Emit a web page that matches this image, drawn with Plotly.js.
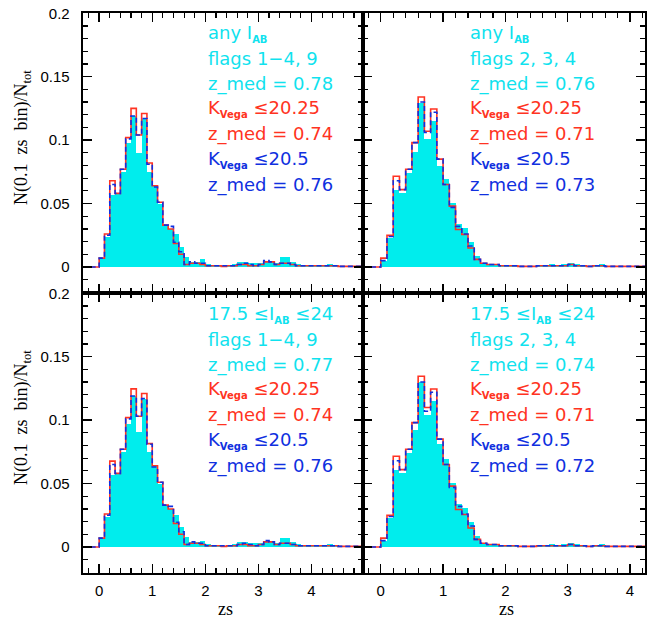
<!DOCTYPE html>
<html><head><meta charset="utf-8">
<script src="https://cdn.plot.ly/plotly-3.0.1.min.js"></script>
<style>html,body{margin:0;padding:0;background:#fff}#chart{width:664px;height:619px}</style>
</head><body><div id="chart"></div>
<script>
// ---- data ----
const binEdges = [0.0,0.1,0.2,0.3,0.4,0.5,0.6,0.7,0.8,0.9,1.0,1.1,1.2,1.3,1.4,1.5,1.6,1.7,1.8,1.9,2.0,2.1,2.2,2.3,2.4,2.5,2.6,2.7,2.8,2.9,3.0,3.1,3.2,3.3,3.4,3.5,3.6,3.7,3.8,3.9,4.0,4.1,4.2,4.3,4.4,4.5,4.6,4.7,4.8,4.9,5.0];

// top-left: any I_AB, flags 1-4, 9
const cyanTL = [0.007,0.024,0.057,0.058,0.075,0.098,0.119,0.090,0.117,0.075,0.064,0.050,0.033,0.030,0.026,0.016,0.0076,0.004,0.004,0.006,0.002,0.001,0.001,0.001,0.001,0.002,0.004,0.004,0.003,0.003,0.003,0.005,0.005,0.003,0.0075,0.0075,0.004,0.002,0.001,0.001,0.001,0.001,0.001,0.002,0.001,0.001,0.001,0.0005,0.0005,0.0005];
const redTL  = [0.007,0.026,0.068,0.058,0.077,0.102,0.125,0.104,0.121,0.082,0.064,0.051,0.033,0.030,0.0185,0.010,0.002,0.003,0.003,0.002,0.001,0.001,0.001,0.0005,0.001,0.001,0.002,0.002,0.001,0.001,0.002,0.004,0.004,0.002,0.003,0.003,0.002,0.001,0.001,0.001,0.001,0.001,0.001,0.001,0.001,0.0005,0.0005,0.0005,0.0005,0.0005];
const blueTL = [0.007,0.025,0.065,0.058,0.077,0.101,0.119,0.104,0.117,0.081,0.063,0.051,0.033,0.032,0.0195,0.012,0.002,0.004,0.003,0.003,0.001,0.001,0.001,0.001,0.001,0.001,0.002,0.003,0.002,0.001,0.002,0.005,0.004,0.002,0.003,0.003,0.002,0.001,0.001,0.001,0.001,0.001,0.001,0.001,0.001,0.0005,0.0005,0.0005,0.0005,0.0005];

// top-right: any I_AB, flags 2,3,4
const cyanTR = [0.005,0.023,0.061,0.058,0.074,0.091,0.129,0.101,0.115,0.080,0.069,0.0505,0.034,0.031,0.020,0.0085,0.003,0.002,0.002,0.001,0.001,0.001,0.001,0.001,0.0005,0.001,0.001,0.002,0.001,0.002,0.003,0.002,0.001,0.001,0.001,0.002,0.001,0.001,0.001,0.0005,0.0005,0.0005,0.0005,0.0005,0.0005,0.0005,0.0005,0.0005,0.0005,0.0005];
const redTR  = [0.007,0.025,0.0715,0.061,0.077,0.098,0.134,0.107,0.1245,0.085,0.065,0.048,0.0295,0.0256,0.015,0.006,0.003,0.002,0.002,0.001,0.001,0.001,0.0005,0.0005,0.0005,0.001,0.001,0.001,0.001,0.001,0.002,0.001,0.001,0.0005,0.001,0.001,0.0005,0.0005,0.0005,0.0005,0.0005,0.0005,0.0005,0.0005,0.0005,0.0005,0.0005,0.0005,0.0005,0.0005];
const blueTR = [0.005,0.024,0.068,0.061,0.077,0.098,0.130,0.106,0.122,0.085,0.065,0.047,0.032,0.026,0.0165,0.006,0.003,0.002,0.002,0.001,0.001,0.001,0.0005,0.0005,0.0005,0.001,0.001,0.001,0.001,0.001,0.002,0.001,0.001,0.0005,0.001,0.001,0.0005,0.0005,0.0005,0.0005,0.0005,0.0005,0.0005,0.0005,0.0005,0.0005,0.0005,0.0005,0.0005,0.0005];

// bottom-left: 17.5 <= I_AB <= 24, flags 1-4, 9
const cyanBL = [0.007,0.024,0.057,0.058,0.075,0.097,0.119,0.0905,0.117,0.075,0.064,0.050,0.033,0.030,0.025,0.016,0.0076,0.004,0.004,0.005,0.002,0.001,0.001,0.001,0.001,0.002,0.004,0.004,0.003,0.003,0.003,0.005,0.005,0.003,0.007,0.007,0.004,0.002,0.001,0.001,0.001,0.001,0.001,0.002,0.001,0.001,0.001,0.0005,0.0005,0.0005];
const redBL  = [0.007,0.026,0.0677,0.058,0.077,0.102,0.1246,0.103,0.121,0.0815,0.064,0.051,0.033,0.030,0.0185,0.010,0.002,0.003,0.003,0.002,0.001,0.001,0.001,0.0005,0.001,0.001,0.002,0.002,0.001,0.001,0.002,0.004,0.004,0.002,0.003,0.003,0.002,0.001,0.001,0.001,0.001,0.001,0.001,0.001,0.001,0.0005,0.0005,0.0005,0.0005,0.0005];
const blueBL = [0.007,0.025,0.065,0.058,0.077,0.101,0.119,0.103,0.117,0.081,0.063,0.051,0.033,0.032,0.0195,0.012,0.002,0.004,0.003,0.003,0.001,0.001,0.001,0.001,0.001,0.001,0.002,0.003,0.002,0.001,0.002,0.005,0.004,0.002,0.003,0.003,0.002,0.001,0.001,0.001,0.001,0.001,0.001,0.001,0.001,0.0005,0.0005,0.0005,0.0005,0.0005];

// bottom-right: 17.5 <= I_AB <= 24, flags 2,3,4
const cyanBR = [0.005,0.023,0.061,0.058,0.074,0.092,0.130,0.104,0.115,0.081,0.069,0.0505,0.034,0.031,0.020,0.0085,0.003,0.002,0.002,0.001,0.001,0.001,0.001,0.001,0.0005,0.001,0.001,0.002,0.001,0.002,0.003,0.002,0.001,0.001,0.001,0.002,0.001,0.001,0.001,0.0005,0.0005,0.0005,0.0005,0.0005,0.0005,0.0005,0.0005,0.0005,0.0005,0.0005];
const redBR  = [0.007,0.025,0.0715,0.061,0.077,0.098,0.1346,0.110,0.1245,0.085,0.065,0.048,0.0295,0.0256,0.015,0.006,0.003,0.002,0.002,0.001,0.001,0.001,0.0005,0.0005,0.0005,0.001,0.001,0.001,0.001,0.001,0.002,0.001,0.001,0.0005,0.001,0.001,0.0005,0.0005,0.0005,0.0005,0.0005,0.0005,0.0005,0.0005,0.0005,0.0005,0.0005,0.0005,0.0005,0.0005];
const blueBR = [0.005,0.024,0.068,0.061,0.077,0.098,0.130,0.107,0.122,0.085,0.065,0.047,0.032,0.026,0.0165,0.006,0.003,0.002,0.002,0.001,0.001,0.001,0.0005,0.0005,0.0005,0.001,0.001,0.001,0.001,0.001,0.002,0.001,0.001,0.0005,0.001,0.001,0.0005,0.0005,0.0005,0.0005,0.0005,0.0005,0.0005,0.0005,0.0005,0.0005,0.0005,0.0005,0.0005,0.0005];

// labels
const KV = 'K<sub><span style="font-size:10px;font-weight:bold">Vega</span></sub>';
const IAB = 'I<sub><span style="font-size:10px;font-weight:bold">AB</span></sub>';
const textTL = ['any ' + IAB, 'flags 1\u22124, 9', 'z_med = 0.78', KV + ' \u226420.25', 'z_med = 0.74', KV + ' \u226420.5', 'z_med = 0.76'];
const textTR = ['any ' + IAB, 'flags 2, 3, 4', 'z_med = 0.76', KV + ' \u226420.25', 'z_med = 0.71', KV + ' \u226420.5', 'z_med = 0.73'];
const textBL = ['17.5 \u2264' + IAB + ' \u226424', 'flags 1\u22124, 9', 'z_med = 0.77', KV + ' \u226420.25', 'z_med = 0.74', KV + ' \u226420.5', 'z_med = 0.76'];
const textBR = ['17.5 \u2264' + IAB + ' \u226424', 'flags 2, 3, 4', 'z_med = 0.74', KV + ' \u226420.25', 'z_med = 0.71', KV + ' \u226420.5', 'z_med = 0.72'];
const yTickVals = [0, 0.05, 0.1, 0.15, 0.2];
const yTickText = ['0', '0.05', '0.1', '0.15', '0.2'];
const xTickVals = [0, 1, 2, 3, 4];
const xTickText = ['0', '1', '2', '3', '4'];
const yTitle = 'N(0.1\u00a0 zs\u00a0 bin)/N<sub>tot</sub>';
const xTitle = 'zs';

// ---- styles / geometry ----
const W = 664, H = 619;
const CYAN_FILL = '#00eded', CYAN_TXT = '#10e2ee', RED = '#ff3322', BLUE = '#1030e0';
const lineColors = ['CY', 'CY', 'CY', 'R', 'R', 'B', 'B'];
const colorMap = {CY: CYAN_TXT, R: RED, B: BLUE};
const px = x => x / W, py = y => 1 - y / H;
const xRangeL = [-0.31, 4.97], xRangeR = [-0.285, 4.24], yRange = [-0.0205, 0.2002];
const domXL = [px(82.7), px(363)], domXR = [px(363), px(645)];
const domYT = [py(293), py(13)], domYB = [py(573), py(293)];

const panels = [
  {c: cyanTL, r: redTL, b: blueTL, xa: 'x',  ya: 'y',  xr: xRangeL, txt: textTL, tx: 206, ty: 33},
  {c: cyanTR, r: redTR, b: blueTR, xa: 'x2', ya: 'y2', xr: xRangeR, txt: textTR, tx: 468, ty: 33},
  {c: cyanBL, r: redBL, b: blueBL, xa: 'x3', ya: 'y3', xr: xRangeL, txt: textBL, tx: 206, ty: 314},
  {c: cyanBR, r: redBR, b: blueBR, xa: 'x4', ya: 'y4', xr: xRangeR, txt: textBR, tx: 468, ty: 314}
];

const traces = [];
const annotations = [];
panels.forEach(p => {
  traces.push({type: 'bar', x: binEdges.slice(0, -1), y: p.c, width: 0.1, offset: 0,
    marker: {color: CYAN_FILL, line: {width: 0}}, xaxis: p.xa, yaxis: p.ya, hoverinfo: 'skip'});
  const sx = [p.xr[0]].concat(binEdges);
  traces.push({type: 'scatter', mode: 'lines', x: sx, y: [0].concat(p.r).concat([0]),
    line: {shape: 'hv', color: RED, width: 1.6}, xaxis: p.xa, yaxis: p.ya, hoverinfo: 'skip'});
  traces.push({type: 'scatter', mode: 'lines', x: sx, y: [0].concat(p.b).concat([0]),
    line: {shape: 'hv', color: BLUE, width: 1.6, dash: '5px,3px'}, xaxis: p.xa, yaxis: p.ya, hoverinfo: 'skip'});
  p.txt.forEach((t, i) => {
    annotations.push({text: t, xref: 'paper', yref: 'paper', x: px(p.tx), y: py(p.ty + i * 25.3),
      xanchor: 'left', yanchor: 'middle', showarrow: false,
      font: {family: 'DejaVu Sans', size: 18, color: colorMap[lineColors[i]]}});
  });
});

// y titles
[138, 418].forEach(yc => annotations.push({text: yTitle, xref: 'paper', yref: 'paper', x: px(22), y: py(yc),
  xanchor: 'center', yanchor: 'middle', textangle: -90, showarrow: false,
  font: {family: 'Liberation Serif', size: 18, color: '#000'}}));
// x titles
[225, 506].forEach(xc => annotations.push({text: xTitle, xref: 'paper', yref: 'paper', x: px(xc), y: py(609),
  xanchor: 'center', yanchor: 'middle', showarrow: false,
  font: {family: 'Liberation Serif', size: 18, color: '#000'}}));

function axBase() {
  return {showline: true, linecolor: '#000', linewidth: 2, mirror: 'ticks', ticks: 'inside',
    ticklen: 9, tickwidth: 1.4, tickcolor: '#000', showgrid: false, zeroline: false,
    tickfont: {family: 'Liberation Sans', size: 15, color: '#000'}, fixedrange: true};
}
function xAx(dom, rng, anchor, labels) {
  return Object.assign(axBase(), {domain: dom, range: rng, anchor: anchor,
    tickvals: xTickVals, ticktext: xTickText, showticklabels: labels, ticklabelstandoff: 3,
    minor: {ticks: 'inside', ticklen: 5, tickwidth: 1.2, tickcolor: '#000', dtick: 0.2, tick0: 0, showgrid: false}});
}
function yAx(dom, anchor, labels) {
  return Object.assign(axBase(), {domain: dom, range: yRange, anchor: anchor,
    tickvals: yTickVals, ticktext: yTickText, showticklabels: labels, ticklabelstandoff: 8,
    minor: {ticks: 'inside', ticklen: 5, tickwidth: 1.2, tickcolor: '#000', dtick: 0.01, tick0: 0, showgrid: false}});
}

const layout = {
  width: W, height: H, autosize: false, showlegend: false, barmode: 'overlay', bargap: 0,
  margin: {l: 0, r: 0, t: 0, b: 0}, paper_bgcolor: '#fff', plot_bgcolor: 'rgba(0,0,0,0)',
  xaxis: xAx(domXL, xRangeL, 'y', false),
  yaxis: yAx(domYT, 'x', true),
  xaxis2: xAx(domXR, xRangeR, 'y2', false),
  yaxis2: yAx(domYT, 'x2', false),
  xaxis3: xAx(domXL, xRangeL, 'y3', true),
  yaxis3: yAx(domYB, 'x3', true),
  xaxis4: xAx(domXR, xRangeR, 'y4', true),
  yaxis4: yAx(domYB, 'x4', false),
  annotations: annotations
};

Plotly.newPlot('chart', traces, layout, {staticPlot: true, displayModeBar: false});
</script>
</body></html>
